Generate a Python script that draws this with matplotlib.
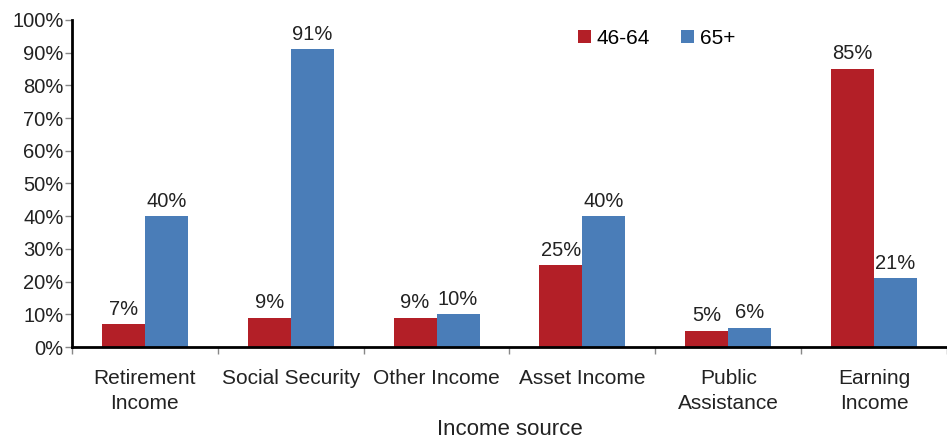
import numpy as np
import matplotlib
matplotlib.use("Agg")
import matplotlib.pyplot as plt
from matplotlib.ticker import FixedLocator, PercentFormatter

plt.rcParams["font.family"] = ["Liberation Sans", "DejaVu Sans"]

categories = ["Retirement\nIncome", "Social Security", "Other Income",
              "Asset Income", "Public\nAssistance", "Earning\nIncome"]
age_46_64 = [7, 9, 9, 25, 5, 85]
age_65_plus = [40, 91, 10, 40, 6, 21]
series_names = ["46-64", "65+"]
colors = ["#B31F27", "#4A7DB8"]

fig = plt.figure(figsize=(9.47, 4.4), dpi=100)
ax = fig.add_axes([0.076, 0.211, 0.924, 0.744])

x = np.arange(len(categories))
w = 0.295
for vals, off, col, name in [(age_46_64, -w / 2, colors[0], series_names[0]),
                             (age_65_plus, w / 2, colors[1], series_names[1])]:
    bars = ax.bar(x + off, vals, width=w, color=col, label=name, zorder=2)
    for b, v in zip(bars, vals):
        ax.annotate(f"{v}%", (b.get_x() + b.get_width() / 2, v),
                    xytext=(0, 4), textcoords="offset points",
                    ha="center", va="bottom", fontsize=14.5, color="#222222")

ax.set_xlim(-0.5, len(categories) - 0.5)
ax.set_ylim(0, 100)
ax.yaxis.set_major_locator(FixedLocator(range(0, 101, 10)))
ax.yaxis.set_major_formatter(PercentFormatter(decimals=0))

ax.set_xticks(x)
ax.set_xticklabels(categories, fontsize=15, color="#222222", linespacing=1.35)
ax.tick_params(axis="x", which="major", length=0, pad=16)
ax.set_xticks(np.arange(-0.5, len(categories), 1.0), minor=True)
ax.tick_params(axis="x", which="minor", length=5, width=1, color="#888888", direction="out")
ax.tick_params(axis="y", length=5, width=1, color="#888888", labelsize=14.5,
               labelcolor="#222222", pad=1)

for s in ["top", "right"]:
    ax.spines[s].set_visible(False)
ax.spines["left"].set_linewidth(2)
ax.spines["bottom"].set_linewidth(2)

ax.set_xlabel("Income source", fontsize=16, color="#222222", labelpad=4.5)

ax.legend(loc="center left", bbox_to_anchor=(578 / 947, 1 - 38 / 440),
          bbox_transform=fig.transFigure, ncol=2, frameon=False,
          fontsize=15, handlelength=0.6, handleheight=0.6, handletextpad=0.3,
          columnspacing=1.5, borderpad=0, borderaxespad=0)

plt.savefig("out.png", dpi=100)
